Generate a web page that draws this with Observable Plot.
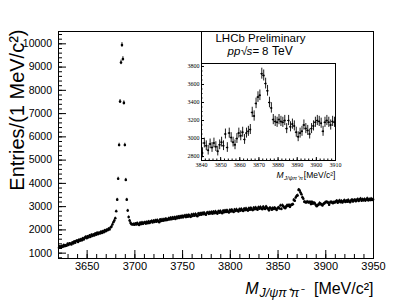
<!DOCTYPE html>
<html><head><meta charset="utf-8">
<script src="https://cdn.jsdelivr.net/npm/d3@7"></script>
<script src="https://cdn.jsdelivr.net/npm/@observablehq/plot@0.6"></script>
<style>
body{margin:0;background:#fff}
#wrap{position:relative;width:415px;height:305px;overflow:hidden;background:#fff}
#wrap svg{position:absolute}
</style>
</head><body><div id="wrap"></div>
<script>
// 1 MeV bins, first bin low edge
const binStart = 3620;
// Entries per 1 MeV bin
const countsA = [ // 3620-3679
  1230,1290,1240,1310,1270,1350,1300,1340,1320,1400,
  1350,1420,1400,1370,1460,1420,1500,1450,1520,1540,
  1480,1570,1530,1600,1550,1640,1590,1660,1700,1640,
  1720,1680,1760,1700,1790,1740,1800,1760,1840,1790,
  1870,1820,1880,1850,1920,1870,1940,1900,1980,1940,
  2000,1990,2050,2020,2100,2140,2230,2330,2400,2500];
const countsPsi = [ // 3680-3699
  2800,3300,4200,5650,7520,9200,9950,9350,7460,5650,
  4150,3300,2830,2550,2400,2300,2240,2230,2250,2220];
const countsB = [ // 3700-3749
  2270,2230,2290,2240,2210,2300,2250,2320,2260,2300,
  2330,2270,2340,2290,2360,2300,2350,2380,2320,2390,
  2340,2410,2350,2420,2370,2330,2440,2380,2450,2390,
  2460,2410,2480,2420,2440,2500,2450,2520,2460,2530,
  2480,2540,2470,2550,2500,2570,2510,2580,2530,2600];
const countsC = [ // 3750-3799
  2540,2590,2620,2550,2630,2570,2640,2590,2560,2660,
  2600,2670,2610,2680,2630,2590,2700,2640,2710,2650,
  2720,2670,2740,2680,2650,2730,2750,2690,2760,2710,
  2770,2700,2780,2720,2790,2730,2700,2800,2740,2810,
  2750,2720,2820,2760,2830,2770,2840,2780,2750,2850];
const countsD = [ // 3800-3839
  2790,2860,2800,2770,2870,2810,2880,2820,2790,2890,
  2830,2900,2840,2810,2910,2850,2920,2860,2830,2930,
  2870,2940,2880,2850,2950,2890,2960,2900,2870,2970,
  2910,2980,2920,2890,2990,2930,2900,3000,2940,2910];
const countsX = [ // 3840-3909 (inset range)
  2840,2950,2920,2870,2940,2900,2950,2910,2860,2930,
  2960,2920,3050,2900,3060,3010,2960,2930,3000,3060,
  3030,3070,2990,3060,3080,3100,3290,3250,3390,3460,
  3480,3720,3700,3610,3530,3400,3340,3210,3190,3180,
  3210,3190,3180,3200,3110,3200,3130,3160,3140,3070,
  3020,3060,3080,3150,3110,3090,3050,3110,3140,3180,
  3200,3190,3170,3080,3180,3200,3180,3150,3190,3180];
const countsE = [ // 3910-3949
  3210,3250,3170,3220,3260,3190,3240,3180,3230,3270,
  3200,3250,3210,3280,3220,3190,3260,3290,3220,3270,
  3290,3230,3280,3320,3240,3300,3340,3250,3310,3270,
  3320,3260,3310,3350,3270,3320,3280,3340,3290,3310];

const xTickLabels = [3650,3700,3750,3800,3850,3900,3950];
const yTickLabels = [1000,2000,3000,4000,5000,6000,7000,8000,9000,10000];
const insetXTickLabels = [3840,3850,3860,3870,3880,3890,3900,3910];
const insetYTickLabels = [2800,3000,3200,3400,3600,3800];

const counts = [...countsA, ...countsPsi, ...countsB, ...countsC, ...countsD, ...countsX, ...countsE];
const data = counts.map((n, i) => ({lo: binStart + i, m: binStart + i + 0.5, n}));
const insetData = data.filter(d => d.lo >= 3840 && d.lo < 3910);

const sans = "'Liberation Sans', Arial, Helvetica, sans-serif";
const serif = "'Liberation Serif', 'Times New Roman', serif";

const W = 415, H = 305, mL = 58, mR = 42, mT = 31, mB = 47;
const pw = W - mL - mR, ph = H - mT - mB;

const main = Plot.plot({
  width: W, height: H,
  marginLeft: mL, marginRight: mR, marginTop: mT, marginBottom: mB,
  x: {domain: [3620, 3950]},
  y: {domain: [770, 10530]},
  style: {fontFamily: sans, color: "black", background: "transparent"},
  marks: [
    Plot.ruleX(d3.range(3620, 3951, 10), {stroke: "black", insetTop: ph - 4}),
    Plot.ruleX(xTickLabels, {stroke: "black", insetTop: ph - 8}),
    Plot.ruleY(d3.range(800, 10530, 200), {stroke: "black", insetRight: pw - 4}),
    Plot.ruleY(yTickLabels, {stroke: "black", insetRight: pw - 8}),
    Plot.axisX({ticks: xTickLabels, tickSize: 0, tickPadding: 4, fontSize: 11, tickFormat: d => String(d), label: null}),
    Plot.axisY({ticks: yTickLabels, tickSize: 0, tickPadding: 6.5, fontSize: 10.5, tickFormat: d => String(d), label: null}),
    Plot.ruleX(data, {x: "m", y1: d => d.n - Math.sqrt(d.n), y2: d => d.n + Math.sqrt(d.n), stroke: "black", strokeWidth: 0.9}),
    Plot.dot(data, {x: "m", y: "n", r: 1.3, fill: "black", stroke: null}),
    Plot.frame({stroke: "black"}),
    Plot.text(["Entries/(1 MeV/c²)"], {text: d => d, frameAnchor: "top-left", rotate: -90, textAnchor: "end", lineAnchor: "bottom", dx: -35, dy: -2, fontSize: 20}),
    Plot.text(["M"], {text: d => d, frameAnchor: "bottom-left", textAnchor: "end", lineAnchor: "bottom", dx: 200, dy: 35.5, fontSize: 16, fontStyle: "italic"}),
    Plot.text(["J/ψπ⁺π⁻"], {text: d => d, frameAnchor: "bottom-left", textAnchor: "start", lineAnchor: "bottom", dx: 201, dy: 38, fontSize: 12.5, fontStyle: "italic"}),
    Plot.text(["[MeV/c²]"], {text: d => d, frameAnchor: "bottom-right", textAnchor: "end", lineAnchor: "bottom", dx: 0, dy: 35, fontSize: 16})
  ]
});

// inset
const iL = 175, iT = 25, iW = 200, iH = 160;
const imL = 26, imR = 40, imT = 38, imB = 25;
const ipw = iW - imL - imR, iph = iH - imT - imB;
const tl = {frameAnchor: "top-left", textAnchor: "start", lineAnchor: "bottom", text: d => d};
const inset = Plot.plot({
  width: iW, height: iH,
  marginLeft: imL, marginRight: imR, marginTop: imT, marginBottom: imB,
  x: {domain: [3840, 3910]},
  y: {domain: [2756, 3833]},
  style: {fontFamily: sans, color: "black", background: "transparent", overflow: "visible"},
  marks: [
    Plot.ruleX([3840], {stroke: "black", insetTop: -32}),
    Plot.ruleX(d3.range(3840, 3911, 2), {stroke: "black", insetTop: iph - 1.5}),
    Plot.ruleX(insetXTickLabels, {stroke: "black", insetTop: iph - 3}),
    Plot.ruleY(d3.range(2800, 3834, 50), {stroke: "black", insetRight: ipw - 1.5}),
    Plot.ruleY(insetYTickLabels, {stroke: "black", insetRight: ipw - 3}),
    Plot.axisX({ticks: insetXTickLabels, tickSize: 0, tickPadding: 2.5, fontSize: 6, fontFamily: serif, tickFormat: d => String(d), label: null}),
    Plot.axisY({ticks: insetYTickLabels, tickSize: 0, tickPadding: 2, fontSize: 6, fontFamily: serif, tickFormat: d => String(d), label: null}),
    Plot.ruleX(insetData, {x: "m", y1: d => d.n - Math.sqrt(d.n), y2: d => d.n + Math.sqrt(d.n), stroke: "black", strokeWidth: 0.9}),
    Plot.ruleY(insetData, {y: "n", x1: "lo", x2: d => d.lo + 1, stroke: "black", strokeWidth: 0.9}),
    Plot.dot(insetData, {x: "m", y: "n", r: 1, fill: "black", stroke: null}),
    Plot.frame({stroke: "black"}),
    Plot.text(["LHCb Preliminary"], {text: d => d, frameAnchor: "top-left", textAnchor: "middle", lineAnchor: "bottom", dx: 59, dy: -21.5, fontSize: 11.5}),
    Plot.text(["pp"], {...tl, dx: 26, dy: -8.5, fontSize: 11.5, fontStyle: "italic"}),
    Plot.text(["√"], {...tl, dx: 39.5, dy: -8.5, fontSize: 11.5}),
    Plot.text(["s"], {...tl, dx: 45, dy: -8.5, fontSize: 11.5, fontStyle: "italic"}),
    Plot.text(["="], {...tl, dx: 51, dy: -8.5, fontSize: 11.5}),
    Plot.text(["8"], {...tl, dx: 60.5, dy: -8.5, fontSize: 11.5}),
    Plot.text(["TeV"], {...tl, dx: 70.5, dy: -8.5, fontSize: 12}),
    Plot.text(["M"], {text: d => d, frameAnchor: "bottom-left", textAnchor: "end", lineAnchor: "bottom", dx: 82, dy: 17.5, fontSize: 8.5, fontStyle: "italic"}),
    Plot.text(["J/ψπ⁺π⁻"], {text: d => d, frameAnchor: "bottom-left", textAnchor: "start", lineAnchor: "bottom", dx: 82.5, dy: 19, fontSize: 6, fontStyle: "italic"}),
    Plot.text(["[MeV/c²]"], {text: d => d, frameAnchor: "bottom-right", textAnchor: "end", lineAnchor: "bottom", dx: 0, dy: 17.5, fontSize: 8.5})
  ]
});
main.style.left = "0px"; main.style.top = "0px";
inset.style.left = iL + "px"; inset.style.top = iT + "px";
const wrap = document.getElementById("wrap");
wrap.appendChild(main);
wrap.appendChild(inset);
</script></body></html>
